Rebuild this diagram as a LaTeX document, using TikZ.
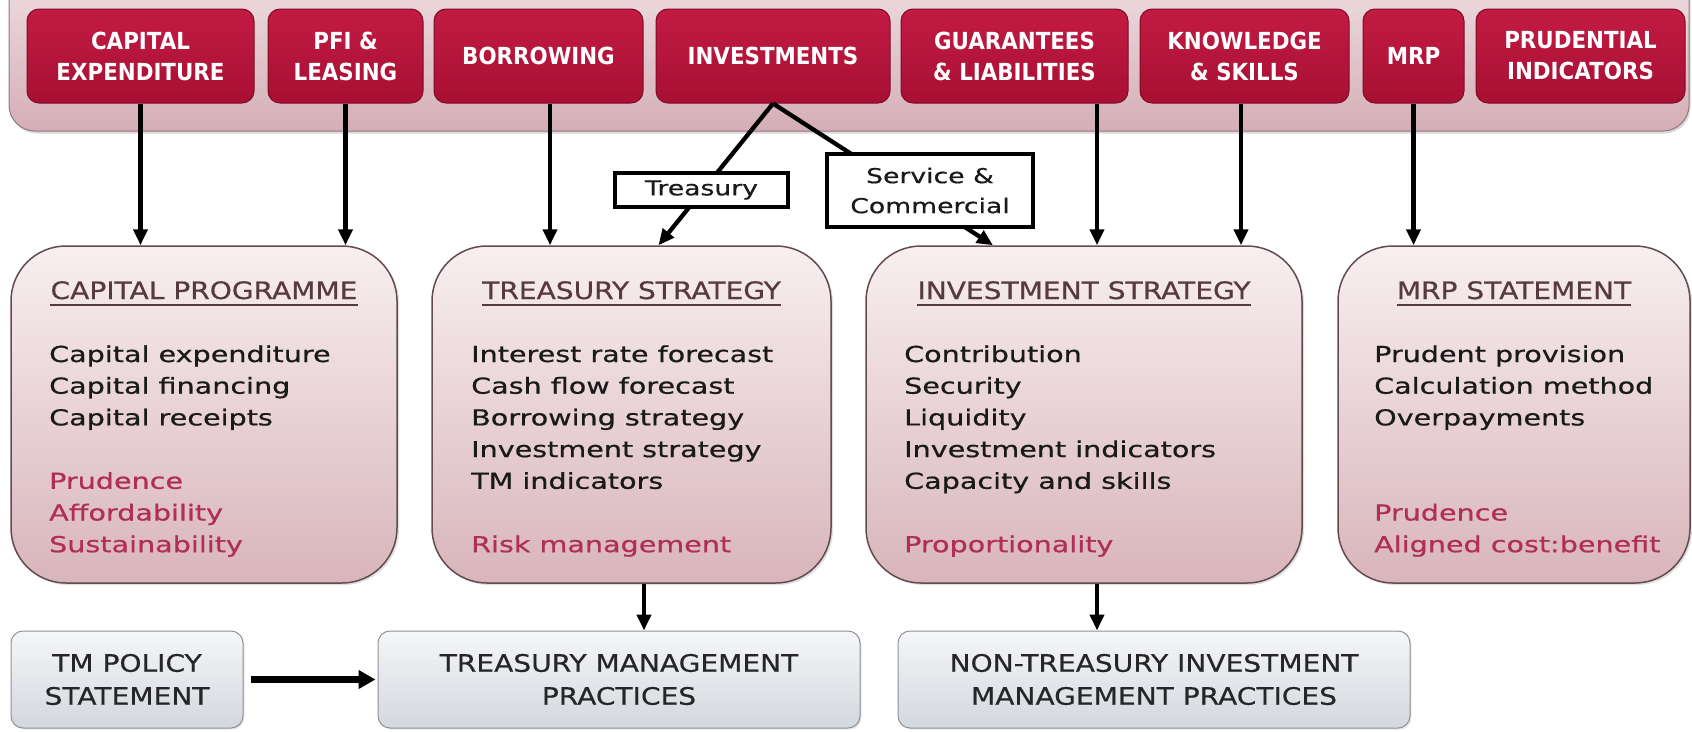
\documentclass[tikz,border=0pt]{standalone}
\usepackage{fontspec}
\setmainfont{DejaVu Sans}
\newfontfamily\bodyfont[FakeStretch=1.3,FakeBold=0.6]{DejaVu Sans}
\newfontfamily\headfont[FakeStretch=1.17,FakeBold=0.5]{DejaVu Sans}
\newfontfamily\tabfont[FakeStretch=0.91]{DejaVu Sans}
\usetikzlibrary{arrows.meta,shadows}

\definecolor{crimsontop}{HTML}{C21B44}
\definecolor{crimsonbot}{HTML}{A80F33}
\definecolor{crimsonline}{HTML}{7E0C27}
\definecolor{bandtop}{HTML}{F1E3E6}
\definecolor{bandbot}{HTML}{D4AEB6}
\definecolor{bandline}{HTML}{957780}
\definecolor{paneltop}{HTML}{F8EFF0}
\definecolor{panelbot}{HTML}{D8B5BB}
\definecolor{panelline}{HTML}{634B50}
\definecolor{headcol}{HTML}{553A41}
\definecolor{pinktext}{HTML}{B02E5A}
\definecolor{bodytext}{HTML}{1A1A1A}
\definecolor{greytop}{HTML}{F5F6F8}
\definecolor{greybot}{HTML}{D3D8DE}
\definecolor{greyline}{HTML}{8E9296}

\tikzset{
  tab/.style={rectangle, rounded corners=12pt, minimum height=94pt, inner sep=0pt,
    draw=crimsonline, line width=1pt, top color=crimsontop, bottom color=crimsonbot,
    text=white, align=center, font=\tabfont\bfseries\fontsize{23.5}{31}\selectfont},
  panel/.style={rectangle, rounded corners=55pt, minimum height=337pt, inner sep=0pt,
    draw=panelline, line width=1.5pt, top color=paneltop, bottom color=panelbot,
    drop shadow={shadow xshift=2pt, shadow yshift=-2pt, opacity=0.25}},
  foot/.style={rectangle, rounded corners=12pt, minimum height=97pt, inner sep=0pt,
    draw=greyline, line width=1pt, top color=greytop, bottom color=greybot,
    align=center, text=black!85, font=\headfont\fontsize{24}{33}\selectfont,
    drop shadow={shadow xshift=1.5pt, shadow yshift=-1.5pt, opacity=0.2}},
  head/.style={inner sep=0pt, anchor=base, text=headcol,
    font=\headfont\fontsize{24}{28}\selectfont},
  uline/.style={draw=headcol, line width=2.4pt},
  body/.style={inner sep=0pt, anchor=base west, text=bodytext,
    font=\bodyfont\fontsize{22}{31.7}\selectfont},
  accent/.style={body, text=pinktext},
  lbl/.style={rectangle, draw=black, line width=3.5pt, fill=white, inner sep=0pt,
    align=center, text=bodytext, font=\bodyfont\fontsize{20.5}{30}\selectfont},
  arr/.style={-{Triangle[length=16pt,width=14pt]}, line width=4.3pt, black},
  fatarr/.style={-{Triangle[length=17pt,width=18pt]}, line width=6.5pt, black}
}

\begin{document}
\begin{tikzpicture}[x=1pt,y=-1pt]
\useasboundingbox (0,0) rectangle (1692,731);

% top band holding the topic tabs
\path[draw=bandline, line width=1pt, top color=bandtop, bottom color=bandbot,
      rounded corners=26pt,
      drop shadow={shadow xshift=1.5pt, shadow yshift=-2.5pt, opacity=0.3}]
  (9,-40) rectangle (1689,131);

% topic tabs
\node[tab, minimum width=227pt] (capex)  at (140.5,56) {CAPITAL\\EXPENDITURE};
\node[tab, minimum width=155pt] (pfi)    at (345.5,56) {PFI \&\\LEASING};
\node[tab, minimum width=209pt] (borrow) at (538.5,56) {BORROWING};
\node[tab, minimum width=234pt] (inv)    at (773,56)   {INVESTMENTS};
\node[tab, minimum width=227pt] (guar)   at (1014.5,56) {GUARANTEES\\\& LIABILITIES};
\node[tab, minimum width=209pt] (know)   at (1244.5,56) {KNOWLEDGE\\\& SKILLS};
\node[tab, minimum width=101pt] (mrp)    at (1413.5,56) {MRP};
\node[tab, minimum width=209pt] (prud)   at (1580.5,56) {PRUDENTIAL\\INDICATORS};

% strategy panels
\node[panel, minimum width=386pt] (cp)  at (204,414.5)  {};
\node[panel, minimum width=399pt] (ts)  at (631.5,414.5) {};
\node[panel, minimum width=436pt] (is)  at (1084,414.5) {};
\node[panel, minimum width=352pt] (ms)  at (1514,414.5) {};

% panel headings with underline
\node[head] (cph) at (204,299)  {CAPITAL PROGRAMME};
\node[head] (tsh) at (631.5,299) {TREASURY STRATEGY};
\node[head] (ish) at (1084,299) {INVESTMENT STRATEGY};
\node[head] (msh) at (1514,299) {MRP STATEMENT};
\foreach \h in {cph,tsh,ish,msh}
  \draw[uline] ([yshift=-6pt]\h.base west) -- ([yshift=-6pt]\h.base east);

% capital programme
\foreach \t [count=\i from 0] in {Capital expenditure,Capital financing,Capital receipts}
  \node[body] (cpa\i) at (49,{362+31.7*\i}) {\t};
\foreach \t [count=\i from 4] in {Prudence,Affordability,Sustainability}
  \node[accent] (cpb\i) at (49,{362+31.7*\i}) {\t};

% treasury strategy
\foreach \t [count=\i from 0] in {Interest rate forecast,Cash flow forecast,Borrowing strategy,Investment strategy,TM indicators}
  \node[body] (tsa\i) at (471,{362+31.7*\i}) {\t};
\node[accent] (tsb) at (471,{362+31.7*6}) {Risk management};

% investment strategy
\foreach \t [count=\i from 0] in {Contribution,Security,Liquidity,Investment indicators,Capacity and skills}
  \node[body] (isa\i) at (904,{362+31.7*\i}) {\t};
\node[accent] (isb) at (904,{362+31.7*6}) {Proportionality};

% MRP statement
\foreach \t [count=\i from 0] in {Prudent provision,Calculation method,Overpayments}
  \node[body] (msa\i) at (1374,{362+31.7*\i}) {\t};
\foreach \t [count=\i from 5] in {Prudence,Aligned cost:benefit}
  \node[accent] (msb\i) at (1374,{362+31.7*\i}) {\t};

% practice boxes
\node[foot, minimum width=232pt] (tmp)   at (127,679.5)  {TM POLICY\\STATEMENT};
\node[foot, minimum width=482pt] (tmpr)  at (619,679.5)  {TREASURY MANAGEMENT\\PRACTICES};
\node[foot, minimum width=512pt] (ntimp) at (1154,679.5) {NON-TREASURY INVESTMENT\\MANAGEMENT PRACTICES};

% tab to panel arrows
\draw[arr] (capex.south) -- (capex.south |- cp.north);
\draw[arr] (pfi.south) -- (pfi.south |- cp.north);
\draw[arr] ([xshift=11.5pt]borrow.south) -- ([xshift=11.5pt]borrow.south |- ts.north);
\draw[arr] ([xshift=82.5pt]guar.south) -- ([xshift=82.5pt]guar.south |- is.north);
\draw[arr] ([xshift=-3.5pt]know.south) -- ([xshift=-3.5pt]know.south |- is.north);
\draw[arr] (mrp.south) -- (mrp.south |- ms.north);

% investments split into treasury and service/commercial
\draw[arr] (inv.south) -- ([xshift=27pt]ts.north);
\draw[arr] (inv.south) -- ([xshift=-91pt]is.north);
\node[lbl, minimum width=173pt, minimum height=34pt] (ltr) at (701.5,190) {Treasury};
\node[lbl, minimum width=206pt, minimum height=73pt] (lsc) at (930,190.5) {Service \&\\Commercial};

% panel to practice arrows
\draw[arr] ([xshift=12.5pt]ts.south) -- ([xshift=12.5pt]ts.south |- tmpr.north);
\draw[arr] ([xshift=13pt]is.south) -- ([xshift=13pt]is.south |- ntimp.north);
\draw[fatarr, shorten <=7pt, shorten >=2pt] (tmp.east) -- (tmpr.west);
\end{tikzpicture}
\end{document}
